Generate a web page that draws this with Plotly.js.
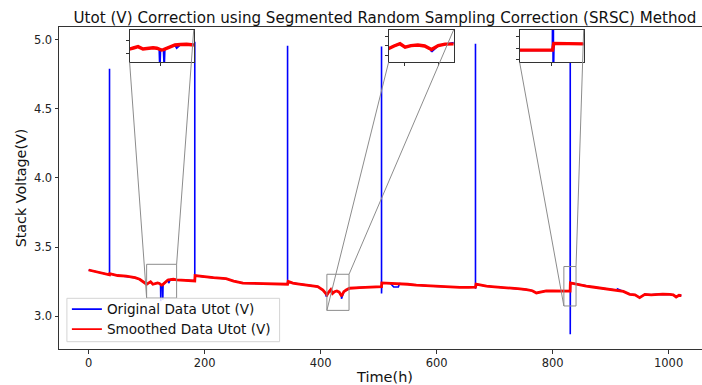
<!DOCTYPE html>
<html>
<head>
<meta charset="utf-8">
<script src="https://cdn.plot.ly/plotly-3.0.1.min.js"></script>
<style>
html,body{margin:0;padding:0;overflow:hidden;background:#fff;}
#chart{width:712px;height:385px;}
</style>
</head>
<body>
<div id="chart"></div>
<script>
// ---- data ----
const hours = [0,10,20,30,36,36.5,50,65,80,88,95,100,103,106.8,110.8,115,118.9,122,124.0,124.8,125.7,127.4,128.3,129,132.5,136.6,141,146,152,165,175,183,183.5,200,215,237,250,266,280,295,310,325,336,343,344,352,360,370,381,395,404,408,411,414,417.5,420.5,424,428,432,436,440,444,450,467,480,495,505,505.5,520,536,550,565,580,594,610,622,640,655,667,668,686,700,720,740,755,765,772,780,789,800,812,820,825,830.2,830.6,835,840,847,858,869,880,890,900,912,922,933,942,950,959,970,979,990,1002,1008,1013,1018,1022];
const smoothed = [3.335,3.325,3.315,3.305,3.300,3.308,3.295,3.290,3.280,3.268,3.250,3.232,3.240,3.250,3.232,3.238,3.242,3.238,3.232,3.229,3.225,3.228,3.231,3.235,3.250,3.263,3.266,3.268,3.263,3.262,3.258,3.256,3.295,3.285,3.280,3.272,3.255,3.240,3.238,3.236,3.234,3.232,3.232,3.232,3.252,3.240,3.235,3.230,3.225,3.215,3.190,3.170,3.155,3.175,3.193,3.165,3.178,3.183,3.175,3.146,3.178,3.190,3.203,3.208,3.210,3.215,3.214,3.242,3.240,3.237,3.232,3.225,3.222,3.217,3.213,3.212,3.210,3.210,3.211,3.232,3.218,3.213,3.208,3.200,3.193,3.185,3.169,3.176,3.184,3.183,3.183,3.182,3.182,3.182,3.242,3.238,3.234,3.225,3.218,3.212,3.206,3.200,3.195,3.188,3.180,3.159,3.155,3.135,3.159,3.155,3.159,3.160,3.159,3.155,3.140,3.152,3.150];
const spikeHours  = [36, 183, 343, 505, 667, 830.4];
const spikeTop    = [4.79, 4.985, 4.955, 4.95, 4.97, 4.90];
const spikeBottom = [3.300, 3.256, 3.228, 3.165, 3.200, 2.870];
const dipHours  = [124.4, 127.9, 138, 410, 436, 526, 534, 912];
const dipValues = [3.110, 3.120, 3.240, 3.142, 3.128, 3.212, 3.212, 3.198];

const xTicks = [0, 200, 400, 600, 800, 1000];
const yTicks = [3.0, 3.5, 4.0, 4.5, 5.0];
const yTickText = ['3.0', '3.5', '4.0', '4.5', '5.0'];
const seriesNames = ['Original Data Utot (V)', 'Smoothed Data Utot (V)'];

// zoom windows of the three insets: [x0, x1, y0, y1]
const zoomWindows = [
  [100, 151.7, 3.132, 3.376],
  [410.8, 449.0, 3.043, 3.304],
  [819.4, 840.4, 3.075, 3.360]
];
const insetXTicks = [[125], [420, 440], [830]];
const insetYTicks = [[3.2, 3.3], [3.1, 3.175, 3.25], [3.1, 3.2, 3.3]];

// ---- build the original series: smoothed path + spikes + dips ----
const pts = hours.map((h, i) => [h, smoothed[i], 0]);
spikeHours.forEach((h, i) => { pts.push([h + 0.01, spikeTop[i], 1]); pts.push([h + 0.02, spikeBottom[i], 2]); });
dipHours.forEach((h, i) => pts.push([h, dipValues[i], 1]));
pts.sort((a, b) => a[0] - b[0] || a[2] - b[2]);
const origX = pts.map(p => p[0]);
const origY = pts.map(p => p[1]);

// ---- layout geometry ----
const xRange = [-51.1, 1073.1];
const yRange = [2.764, 5.091];
const insetXDom = [[0.1083, 0.2066], [0.5055, 0.6052], [0.7065, 0.8047]];
const insetYDom = [0.8904, 0.9907];

const FONT = 'DejaVu Sans, Liberation Sans, sans-serif';
const BLUE = '#0000ff', RED = '#ff0000', FRAME = '#333333', MARK = '#8c8c8c';

const traces = [
  {x: origX, y: origY, type: 'scatter', mode: 'lines', showlegend: false,
   line: {color: BLUE, width: 1.6}, xaxis: 'x', yaxis: 'y'},
  {x: hours, y: smoothed, type: 'scatter', mode: 'lines', showlegend: false,
   line: {color: RED, width: 2.8}, xaxis: 'x', yaxis: 'y'},
  // legend entries
  {x: [null], y: [null], type: 'scatter', mode: 'lines', name: seriesNames[0], legend: 'legend',
   line: {color: BLUE, width: 1.6}, xaxis: 'x', yaxis: 'y'},
  {x: [null], y: [null], type: 'scatter', mode: 'lines', name: seriesNames[1], legend: 'legend2',
   line: {color: RED, width: 1.6}, xaxis: 'x', yaxis: 'y'}
];

const legendCommon = {xanchor: 'left', yanchor: 'middle', bgcolor: 'rgba(0,0,0,0)', borderwidth: 0,
  font: {family: FONT, size: 13.6, color: '#111'}, itemwidth: 30};

const layout = {
  width: 712, height: 385,
  margin: {l: 59.4, r: 0.6, t: 27, b: 36, autoexpand: false},
  paper_bgcolor: '#fff', plot_bgcolor: '#fff',
  font: {family: FONT, color: '#111', size: 13.6},
  showlegend: true,
  title: {text: 'Utot (V) Correction using Segmented Random Sampling Correction (SRSC) Method',
          x: 0.5, xref: 'paper', xanchor: 'center', y: 1, yref: 'paper', yanchor: 'bottom',
          pad: {b: 4}, font: {family: FONT, size: 15.1, color: '#111'}},
  xaxis: {domain: [0, 1], range: xRange, tickvals: xTicks, ticks: 'outside', ticklen: 3.5, tickwidth: 1,
          tickcolor: FRAME, showline: true, linecolor: FRAME, linewidth: 1, mirror: true,
          showgrid: false, zeroline: false, tickfont: {family: FONT, size: 11.5, color: '#222'},
          title: {text: 'Time(h)', font: {family: FONT, size: 14.5, color: '#111'}, standoff: 2}},
  yaxis: {domain: [0, 1], range: yRange, tickvals: yTicks, ticktext: yTickText, ticks: 'outside',
          ticklen: 3.5, tickwidth: 1, tickcolor: FRAME, showline: true, linecolor: FRAME, linewidth: 1,
          mirror: true, showgrid: false, zeroline: false, tickfont: {family: FONT, size: 11.5, color: '#222'},
          title: {text: 'Stack Voltage(V)', font: {family: FONT, size: 14.3, color: '#111'}, standoff: 3}},
  legend: Object.assign({x: 0.0121, y: (349 - 309.3) / 322}, legendCommon),
  legend2: Object.assign({x: 0.0121, y: (349 - 329.3) / 322}, legendCommon),
  shapes: []
};

const px = v => (v - xRange[0]) / (xRange[1] - xRange[0]);
const py = v => (v - yRange[0]) / (yRange[1] - yRange[0]);

// inset axes
zoomWindows.forEach((w, k) => {
  const n = k + 2;
  const xa = 'x' + n, ya = 'y' + n;
  layout['xaxis' + n] = {domain: insetXDom[k], anchor: ya, range: [w[0], w[1]], tickvals: insetXTicks[k],
    showticklabels: false, ticks: 'outside', ticklen: 3, tickcolor: FRAME, showline: true, linecolor: FRAME,
    linewidth: 1, mirror: true, showgrid: false, zeroline: false};
  layout['yaxis' + n] = {domain: insetYDom, anchor: xa, range: [w[2], w[3]], tickvals: insetYTicks[k],
    showticklabels: false, ticks: 'outside', ticklen: 3, tickcolor: FRAME, showline: true, linecolor: FRAME,
    linewidth: 1, mirror: true, showgrid: false, zeroline: false};
  traces.push({x: origX, y: origY, type: 'scatter', mode: 'lines', showlegend: false,
    line: {color: BLUE, width: 2}, xaxis: xa, yaxis: ya});
  traces.push({x: hours, y: smoothed, type: 'scatter', mode: 'lines', showlegend: false,
    line: {color: RED, width: 3.4}, xaxis: xa, yaxis: ya});

  // zoom box on the main axes
  layout.shapes.push({type: 'rect', xref: 'x', yref: 'y', x0: w[0], x1: w[1], y0: w[2], y1: w[3],
    line: {color: MARK, width: 1}, fillcolor: 'rgba(0,0,0,0)', layer: 'above'});
  // connectors (lower-left to lower-left, upper-right to upper-right)
  layout.shapes.push({type: 'line', xref: 'paper', yref: 'paper', x0: insetXDom[k][0], y0: insetYDom[0],
    x1: px(w[0]), y1: py(w[2]), line: {color: MARK, width: 1}, layer: 'above'});
  layout.shapes.push({type: 'line', xref: 'paper', yref: 'paper', x0: insetXDom[k][1], y0: insetYDom[1],
    x1: px(w[1]), y1: py(w[3]), line: {color: MARK, width: 1}, layer: 'above'});
});

// legend frame (drawn over the data, like the reference)
const lx0 = (67.3 - 59.4) / 652, lx1 = (280 - 59.4) / 652;
const ly0 = (349 - 341.7) / 322, ly1 = (349 - 298.3) / 322;
layout.shapes.push({type: 'rect', xref: 'paper', yref: 'paper', x0: lx0, x1: lx1, y0: ly0, y1: ly1,
  line: {color: '#d4d4d4', width: 1}, fillcolor: 'rgba(255,255,255,0.85)', layer: 'above'});

Plotly.newPlot('chart', traces, layout, {staticPlot: true, displayModeBar: false});
</script>
</body>
</html>
